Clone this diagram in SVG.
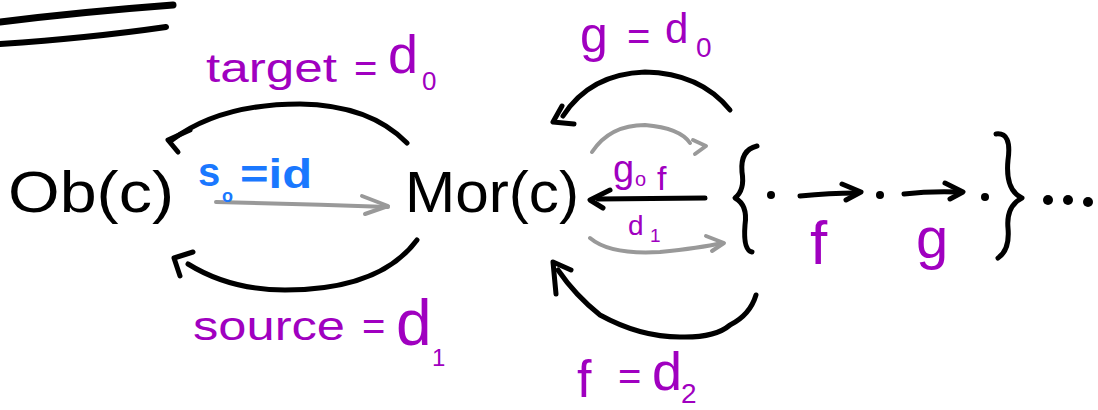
<svg xmlns="http://www.w3.org/2000/svg" width="1098" height="410" viewBox="0 0 1098 410">
<style>
.ink{fill:none;stroke:#000;stroke-width:5;stroke-linecap:round;stroke-linejoin:round}
.gray{fill:none;stroke:#999;stroke-width:4;stroke-linecap:round;stroke-linejoin:round}
.node{font-family:"Liberation Sans","DejaVu Sans",sans-serif;fill:#000;font-size:58px}
.lab{font-family:"Liberation Sans","DejaVu Sans",sans-serif;fill:#a000c0}
.blue{font-family:"Liberation Sans","DejaVu Sans",sans-serif;fill:#1a78ff;font-weight:bold}
</style>
<rect width="1098" height="410" fill="#fff"/>
<g id="rules">
<path d="M0 22 Q80 12 173 5" fill="none" stroke="#000" stroke-width="7" stroke-linecap="round"/>
<path d="M0 44 Q90 38 166 27" fill="none" stroke="#000" stroke-width="6" stroke-linecap="round"/>
</g>
<g id="ob"><text class="node" x="8" y="212" textLength="166" lengthAdjust="spacingAndGlyphs">Ob(c)</text></g>
<g id="mor"><text class="node" x="405" y="212" textLength="174" lengthAdjust="spacingAndGlyphs">Mor(c)</text></g>
<g id="set">
<path class="ink" d="M757 146 Q740 150 742 172 Q745 190 735 198 Q748 205 745 225 Q743 250 752 252"/>
<path class="ink" d="M996 134 Q1012 132 1008 160 Q1005 190 1022 198 Q1006 206 1008 228 Q1010 250 998 258"/>
<circle cx="771" cy="195" r="4"/>
<circle cx="880" cy="195" r="4"/>
<circle cx="985" cy="197" r="4"/>
</g>
<g id="ellipsis">
<circle cx="1048" cy="200" r="5"/>
<circle cx="1068" cy="200" r="5"/>
<circle cx="1088" cy="202" r="5"/>
</g>
<g id="connectors">
<path class="ink" d="M407 143 Q370 105 300 104 Q220 104 172 140"/>
<path class="ink" d="M190 130 L168 140 L178 152"/>
<path class="ink" d="M417 240 Q380 290 285 290 Q230 290 188 264"/>
<path class="ink" d="M193 252 L174 258 L180 276"/>
<path class="gray" d="M216 202 Q300 204 388 207"/>
<path class="gray" d="M362 196 L388 206 L365 214"/>
<path class="ink" d="M730 110 Q700 73 645 72 Q590 74 563 116"/>
<path class="ink" d="M562 106 L553 122 L574 124"/>
<path class="gray" d="M592 152 Q610 125 645 125 Q680 128 690 143"/>
<path class="gray" d="M693 140 L706 146 L695 154"/>
<path class="ink" d="M705 198 L598 199"/>
<path class="ink" d="M610 190 L590 200 L603 208"/>
<path class="gray" d="M590 238 Q610 255 660 252 Q700 248 722 243"/>
<path class="gray" d="M706 236 L724 243 L712 251"/>
<path class="ink" d="M756 295 Q750 315 730 325 Q715 338 680 337 Q640 337 600 315 Q575 295 558 270"/>
<path class="ink" d="M556 294 L553 262 L571 270"/>
<path class="ink" d="M800 196 Q830 193 856 193"/>
<path class="ink" d="M842 184 L861 192 L846 200"/>
<path class="ink" d="M904 194 Q930 191 958 192"/>
<path class="ink" d="M945 183 L963 192 L950 199"/>
</g>
<g id="labels" font-size="40">
<text class="lab" x="206" y="82" textLength="131" lengthAdjust="spacingAndGlyphs">target</text>
<text class="lab" x="354" y="82">=</text>
<text class="lab" x="388" y="73" font-size="54">d</text>
<text class="lab" x="422" y="90" font-size="26">0</text>
<text class="lab" x="193" y="340" textLength="152" lengthAdjust="spacingAndGlyphs">source</text>
<text class="lab" x="362" y="340">=</text>
<text class="lab" x="396" y="345" font-size="64">d</text>
<text class="lab" x="432" y="366" font-size="24">1</text>
<text class="blue" x="198" y="186" font-size="40">s</text>
<text class="blue" x="222" y="202" font-size="18">o</text>
<text class="blue" x="240" y="188" textLength="72" lengthAdjust="spacingAndGlyphs">=id</text>
<text class="lab" x="580" y="52" font-size="50">g</text>
<text class="lab" x="627" y="50">=</text>
<text class="lab" x="665" y="43" font-size="42">d</text>
<text class="lab" x="696" y="57" font-size="28">0</text>
<text class="lab" x="613" y="182" font-size="38">g</text>
<text class="lab" x="635" y="186" font-size="20">o</text>
<text class="lab" x="657" y="190" font-size="34">f</text>
<text class="lab" x="628" y="235" font-size="28">d</text>
<text class="lab" x="650" y="242" font-size="19">1</text>
<text class="lab" x="810" y="264" font-size="62">f</text>
<text class="lab" x="916" y="258" font-size="58">g</text>
<text class="lab" x="577" y="397" font-size="52">f</text>
<text class="lab" x="618" y="390">=</text>
<text class="lab" x="652" y="390" font-size="54">d</text>
<text class="lab" x="681" y="403" font-size="28">2</text>
</g>
</svg>
